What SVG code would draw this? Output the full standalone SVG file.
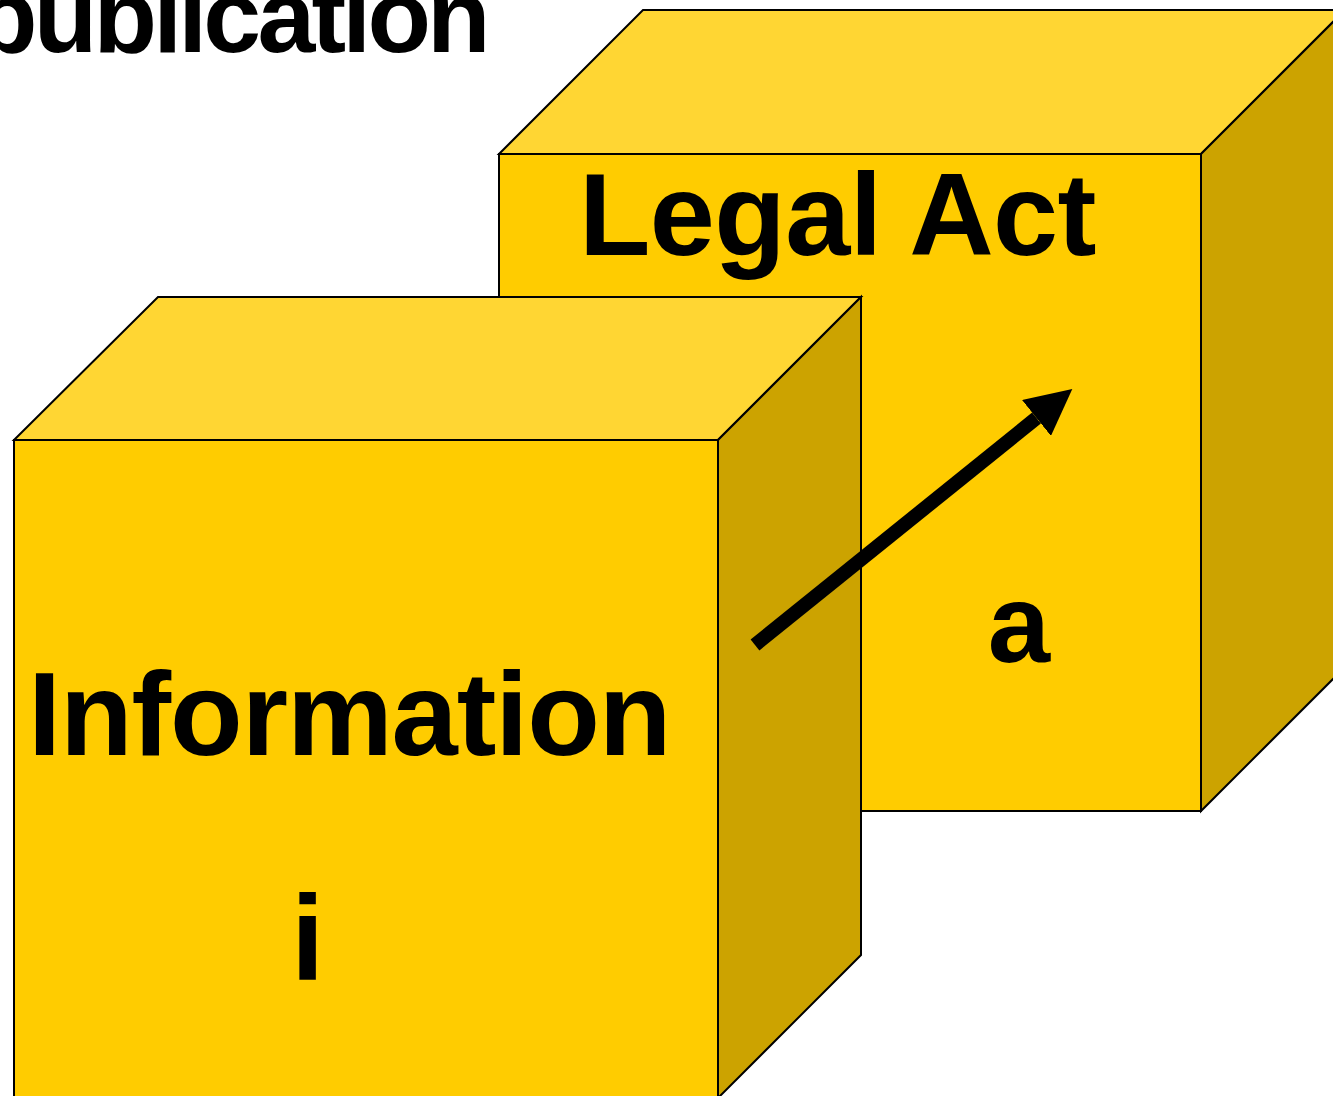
<svg xmlns="http://www.w3.org/2000/svg" width="1333" height="1096" viewBox="0 0 1333 1096">
  <style>
    .front { fill: #FFCC00; stroke: #000; stroke-width: 2; stroke-linejoin: miter; }
    .top { fill: #FFD633; stroke: #000; stroke-width: 2; stroke-linejoin: miter; }
    .side { fill: #CCA300; stroke: #000; stroke-width: 2; stroke-linejoin: miter; }
    .lbl { font-family: "Liberation Sans", Arial, Helvetica, sans-serif; font-weight: bold; fill: #000; }
    .arrow { stroke: #000; stroke-width: 14; fill: none; }
  </style>
  <defs>
    <marker id="head" markerUnits="userSpaceOnUse" viewBox="0 0 46 46" markerWidth="46" markerHeight="46" refX="0" refY="23" orient="auto">
      <path d="M0,0 L46,23 L0,46 Z" fill="#000"/>
    </marker>
  </defs>
  <rect width="1333" height="1096" fill="#fff"/>
  <g id="title">
    <text class="lbl" x="-26" y="52" font-size="104" letter-spacing="-3.8">publication</text>
  </g>
  <g id="legal-act">
    <polygon class="top" points="499,154 643,10 1345,10 1201,154"/>
    <polygon class="side" points="1201,154 1345,10 1345,667 1201,811"/>
    <rect class="front" x="499" y="154" width="702" height="657"/>
    <text class="lbl" x="579" y="255" font-size="117" letter-spacing="-0.6">Legal Act</text>
    <text class="lbl" x="1019" y="662" font-size="112" text-anchor="middle">a</text>
  </g>
  <g id="information">
    <polygon class="top" points="14,440 158,297 861,297 718,440"/>
    <polygon class="side" points="718,440 861,297 861,955 718,1098"/>
    <rect class="front" x="14" y="440" width="704" height="662"/>
    <text class="lbl" x="28" y="755" font-size="119" letter-spacing="-1.1">Information</text>
    <text class="lbl" x="291" y="980" font-size="120">i</text>
  </g>
  <g id="connectors">
    <line class="arrow" x1="755" y1="645" x2="1036.5" y2="418" marker-end="url(#head)"/>
  </g>
</svg>
